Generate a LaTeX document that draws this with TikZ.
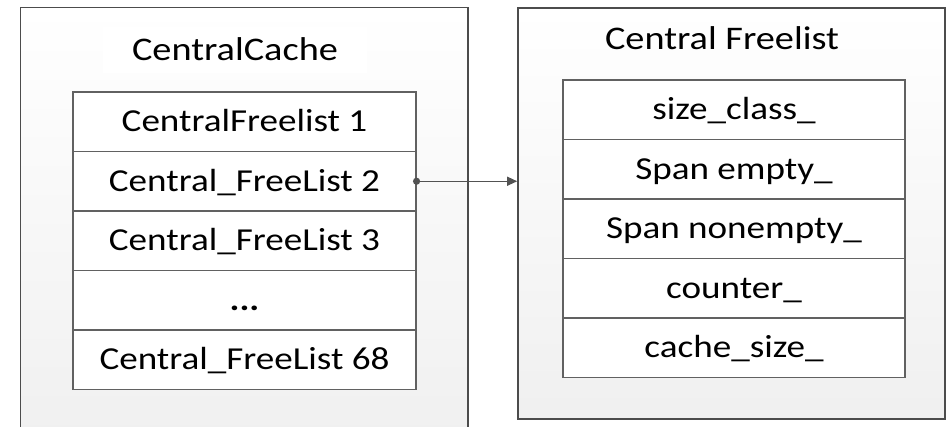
\documentclass[tikz,border=0pt]{standalone}
\usepackage{fontspec}
\setmainfont{Carlito}[FakeStretch=1.16]
\usetikzlibrary{arrows.meta}
\begin{document}
\begin{tikzpicture}[x=1pt,y=-1pt,
  outerbox/.style={draw=black!70, line width=1.6pt, top color=white, bottom color=black!6, inner sep=0pt},
  rowbox/.style={draw=black!62, line width=1.1pt, fill=white, inner sep=0pt,
    minimum height=59.5pt, text height=20pt, text depth=0pt, font=\fontsize{32}{38}\selectfont},
  lrow/.style={rowbox, minimum width=343pt},
  rrow/.style={rowbox, minimum width=342pt},
  titletext/.style={inner sep=0pt, text height=22pt, text depth=0pt, font=\fontsize{33}{40}\selectfont},
  link/.style={draw=black!68, line width=1.2pt, -{Triangle[length=10pt,width=9pt]}}]
\useasboundingbox (0,0) rectangle (946,427);
\clip (0,0) rectangle (946,427);
% outer containers
\node[outerbox, minimum width=447.5pt, minimum height=440pt] (lbox) at (244.25,227.5) {};
\node[outerbox, minimum width=427pt, minimum height=411pt] (rbox) at (731.5,213.5) {};
% titles
\node[fill=white, minimum width=264pt, minimum height=46pt, inner sep=0pt] (ltitlebg) at (235,50) {};
\node[titletext] (ltitle) at (235,49.5) {CentralCache};
\node[titletext] (rtitle) at (722,39) {Central Freelist};
% left table
\node[lrow] (l1) at (244.5,121.75) {CentralFreelist 1};
\node[lrow] (l2) at (244.5,181.25) {Central\_FreeList 2};
\node[lrow] (l3) at (244.5,240.75) {Central\_FreeList 3};
\node[lrow] (l4) at (244.5,300.25) {\textbf{...}};
\node[lrow] (l5) at (244.5,359.75) {Central\_FreeList 68};
% right table
\node[rrow] (r1) at (734,109.75) {size\_class\_};
\node[rrow] (r2) at (734,169.25) {Span empty\_};
\node[rrow] (r3) at (734,228.75) {Span nonempty\_};
\node[rrow] (r4) at (734,288.25) {counter\_};
\node[rrow] (r5) at (734,347.75) {cache\_size\_};
% connector
\fill[black!68] (l2.east) circle (3.6);
\coordinate (tip) at (l2.east -| rbox.west);
\draw[link] (l2.east) -- (tip);
\end{tikzpicture}
\end{document}
